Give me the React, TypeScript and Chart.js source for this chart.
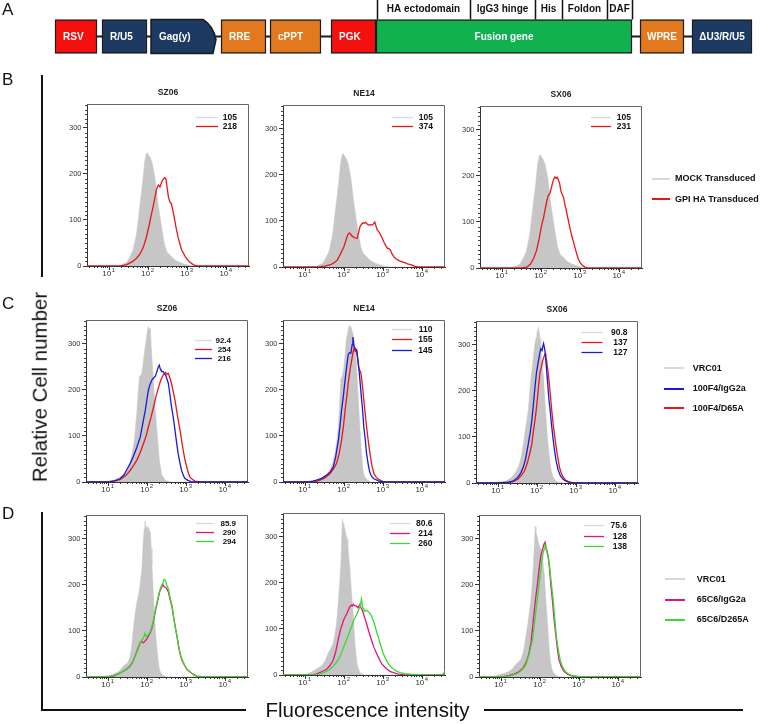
import React, { useEffect, useRef } from 'react';
import { Chart, registerables } from 'chart.js';

Chart.register(...registerables);

const FAMILY = '"Liberation Sans", Arial, Helvetica, sans-serif';

// ---------------- Panel A: construct map ----------------
const constructElements = ['RSV', 'R/U5', 'Gag(y)', 'RRE', 'cPPT', 'PGK', 'Fusion gene', 'WPRE', 'ΔU3/R/U5'];
const elementStart = [55, 102, 151, 221, 270, 331, 376, 640, 692];
const elementEnd = [97, 147, 216, 266, 321, 376, 632, 684, 752];
const elementKind = ['promoter', 'ltr', 'gag', 'element', 'element', 'promoter', 'fusion', 'element', 'ltr'];
const fusionDomains = ['HA ectodomain', 'IgG3 hinge', 'His', 'Foldon', 'DAF'];
const fusionBounds = [377, 470, 535, 562, 607, 632];

// ---------------- Histogram axes ----------------
const X_MIN_EXP = 0.43;
const X_MAX_EXP = 4.58;
const X_LABEL_EXPS = [1, 2, 3, 4];
const Y_MAX = 352;
const Y_TICKS_STEP = 100;

// [log10 intensity, cell count]
const bMock = [[0.43,0],[1.2,0],[1.3,2],[1.45,8],[1.53,20],[1.61,34],[1.7,70],[1.78,128],[1.85,178],[1.91,228],[1.95,244],[1.98,246],[2.01,240],[2.05,236],[2.1,224],[2.17,193],[2.25,136],[2.34,85],[2.42,45],[2.48,30],[2.53,26],[2.58,22],[2.65,15],[2.75,10],[2.9,5],[3.06,1],[3.2,0],[4.58,0]];
const bSz06Gpi = [[0.43,0],[1.3,0],[1.45,3],[1.6,10],[1.7,17],[1.78,25],[1.87,40],[1.95,62],[2.02,88],[2.08,112],[2.15,140],[2.21,167],[2.26,176],[2.3,172],[2.34,182],[2.38,188],[2.42,192],[2.45,190],[2.48,172],[2.52,148],[2.56,138],[2.59,136],[2.62,124],[2.66,108],[2.71,84],[2.77,60],[2.85,36],[2.95,20],[3.05,9],[3.15,3],[3.25,0],[4.58,0]];
const bNe14Gpi = [[0.43,0],[1.35,0],[1.5,2],[1.65,5],[1.75,10],[1.82,15],[1.9,28],[1.99,44],[2.05,60],[2.09,70],[2.13,74],[2.16,72],[2.2,67],[2.24,65],[2.29,63],[2.33,62],[2.37,76],[2.4,87],[2.44,93],[2.48,96],[2.52,95],[2.55,97],[2.59,93],[2.63,91],[2.67,92],[2.71,91],[2.75,94],[2.78,98],[2.81,90],[2.84,81],[2.89,76],[2.93,70],[2.97,63],[3.01,55],[3.06,47],[3.1,41],[3.14,40],[3.18,37],[3.22,29],[3.27,22],[3.32,18],[3.38,15],[3.45,12],[3.53,10],[3.62,7],[3.7,5],[3.8,2],[3.9,0],[4.58,0]];
const bSx06Gpi = [[0.43,0],[1.5,0],[1.63,2],[1.72,8],[1.8,20],[1.87,36],[1.93,57],[1.97,75],[2.01,93],[2.06,110],[2.1,128],[2.14,145],[2.18,158],[2.22,162],[2.26,175],[2.31,192],[2.35,198],[2.38,195],[2.41,197],[2.44,191],[2.47,184],[2.5,168],[2.53,160],[2.57,154],[2.6,140],[2.64,125],[2.7,100],[2.74,85],[2.78,70],[2.83,55],[2.87,42],[2.91,30],[2.95,19],[3.0,11],[3.05,6],[3.12,2],[3.2,0],[4.58,0]];

const cSz06Vrc = [[0.43,0],[0.7,0],[0.85,1],[1.0,2],[1.13,4],[1.27,9],[1.39,15],[1.46,22],[1.52,33],[1.57,46],[1.61,62],[1.67,91],[1.73,149],[1.77,200],[1.8,229],[1.83,232],[1.86,236],[1.9,262],[1.93,284],[1.96,302],[1.99,320],[2.01,332],[2.03,338],[2.06,330],[2.08,334],[2.1,294],[2.14,243],[2.17,200],[2.2,163],[2.23,130],[2.26,98],[2.31,47],[2.37,15],[2.46,4],[2.59,0],[4.58,0]];
const cSz06IgG2a = [[0.43,0],[0.9,0],[1.05,1],[1.18,3],[1.3,7],[1.4,15],[1.47,26],[1.56,40],[1.64,55],[1.73,75],[1.82,98],[1.88,125],[1.95,156],[2.0,185],[2.03,200],[2.07,212],[2.12,222],[2.16,226],[2.2,229],[2.24,238],[2.28,250],[2.31,254],[2.33,246],[2.35,243],[2.38,240],[2.41,240],[2.44,235],[2.47,232],[2.51,222],[2.54,214],[2.58,190],[2.62,163],[2.67,138],[2.71,112],[2.75,86],[2.79,62],[2.84,40],[2.88,25],[2.92,15],[2.96,8],[3.03,4],[3.12,1],[3.26,0],[4.58,0]];
const cSz06D65A = [[0.43,0],[1.0,0],[1.15,2],[1.3,5],[1.45,14],[1.56,25],[1.65,36],[1.73,47],[1.82,64],[1.9,83],[1.97,100],[2.03,120],[2.1,142],[2.16,163],[2.22,185],[2.29,206],[2.34,220],[2.4,232],[2.44,236],[2.47,238],[2.5,234],[2.54,236],[2.58,226],[2.62,214],[2.66,198],[2.71,178],[2.77,145],[2.84,112],[2.88,90],[2.92,69],[2.96,50],[3.01,33],[3.05,20],[3.09,11],[3.15,6],[3.22,2],[3.35,0],[4.58,0]];

const cNe14Vrc = [[0.43,0],[0.9,0],[1.03,1],[1.2,3],[1.35,6],[1.46,11],[1.55,17],[1.63,25],[1.7,40],[1.76,62],[1.81,90],[1.85,120],[1.88,170],[1.91,222],[1.95,232],[1.98,243],[2.02,275],[2.05,308],[2.09,325],[2.12,338],[2.15,340],[2.18,334],[2.21,325],[2.24,316],[2.28,290],[2.31,258],[2.34,210],[2.37,163],[2.4,118],[2.43,76],[2.46,45],[2.48,25],[2.52,12],[2.57,6],[2.67,0],[4.58,0]];
const cNe14IgG2a = [[0.43,0],[1.1,0],[1.2,2],[1.29,4],[1.42,8],[1.55,15],[1.64,22],[1.72,33],[1.78,55],[1.85,91],[1.89,122],[1.93,156],[1.98,190],[2.02,221],[2.06,250],[2.1,276],[2.13,281],[2.17,280],[2.2,298],[2.22,315],[2.24,300],[2.25,294],[2.28,290],[2.31,287],[2.34,270],[2.37,250],[2.4,222],[2.43,192],[2.47,155],[2.5,120],[2.54,90],[2.57,62],[2.61,40],[2.65,22],[2.7,12],[2.76,7],[2.89,2],[3.02,0],[4.58,0]];
const cNe14D65A = [[0.43,0],[1.2,0],[1.3,2],[1.38,4],[1.5,9],[1.63,18],[1.72,28],[1.8,40],[1.87,62],[1.93,91],[1.98,122],[2.02,156],[2.07,190],[2.11,221],[2.15,245],[2.19,265],[2.22,280],[2.25,290],[2.28,284],[2.32,287],[2.35,265],[2.37,247],[2.4,242],[2.43,236],[2.47,205],[2.5,178],[2.54,145],[2.58,113],[2.62,85],[2.67,55],[2.71,35],[2.76,18],[2.82,10],[2.89,5],[3.02,0],[4.58,0]];

const cSx06Vrc = [[0.43,0],[0.75,0],[0.86,1],[1.05,2],[1.21,5],[1.3,9],[1.38,16],[1.45,24],[1.51,34],[1.56,46],[1.6,63],[1.65,88],[1.69,114],[1.73,135],[1.77,158],[1.8,190],[1.83,223],[1.87,250],[1.9,274],[1.94,303],[1.97,316],[1.99,325],[2.01,332],[2.03,339],[2.05,326],[2.07,314],[2.09,295],[2.11,274],[2.13,252],[2.16,230],[2.2,172],[2.23,135],[2.26,99],[2.3,65],[2.33,41],[2.37,22],[2.41,12],[2.47,5],[2.54,2],[2.67,0],[4.58,0]];
const cSx06IgG2a = [[0.43,0],[1.0,0],[1.1,1],[1.25,2],[1.38,4],[1.5,12],[1.58,22],[1.64,34],[1.7,52],[1.77,85],[1.82,110],[1.86,136],[1.9,170],[1.94,208],[1.98,240],[2.03,266],[2.06,280],[2.09,292],[2.12,288],[2.14,296],[2.16,303],[2.18,295],[2.2,285],[2.23,255],[2.26,223],[2.3,180],[2.33,158],[2.36,130],[2.4,99],[2.44,72],[2.48,49],[2.53,30],[2.59,16],[2.65,9],[2.71,5],[2.8,2],[2.88,0],[4.58,0]];
const cSx06D65A = [[0.43,0],[1.1,0],[1.25,1],[1.38,3],[1.5,8],[1.6,17],[1.68,27],[1.75,45],[1.81,65],[1.86,85],[1.9,112],[1.95,142],[1.99,172],[2.03,208],[2.07,241],[2.1,250],[2.14,266],[2.17,274],[2.2,281],[2.22,272],[2.24,266],[2.27,245],[2.31,215],[2.34,186],[2.37,158],[2.41,125],[2.46,92],[2.51,62],[2.57,34],[2.62,20],[2.67,12],[2.73,6],[2.8,3],[2.9,1],[2.97,0],[4.58,0]];

const dSz06Vrc = [[0.43,0],[0.75,0],[0.82,1],[1.0,3],[1.13,6],[1.27,12],[1.39,24],[1.5,31],[1.55,42],[1.59,60],[1.62,85],[1.65,111],[1.69,138],[1.73,161],[1.77,176],[1.8,190],[1.83,212],[1.86,234],[1.88,268],[1.9,299],[1.92,322],[1.94,339],[1.96,330],[1.99,321],[2.01,327],[2.03,325],[2.06,318],[2.08,314],[2.1,280],[2.12,241],[2.15,190],[2.18,140],[2.21,100],[2.25,60],[2.28,35],[2.31,17],[2.35,8],[2.4,4],[2.5,0],[4.58,0]];
const dSz06IgG2a = [[0.43,0],[0.9,0],[1.0,1],[1.13,2],[1.27,7],[1.39,13],[1.48,18],[1.56,24],[1.63,33],[1.69,46],[1.76,62],[1.82,75],[1.86,77],[1.9,74],[1.94,78],[1.99,83],[2.03,89],[2.08,97],[2.12,107],[2.16,122],[2.2,140],[2.25,160],[2.31,183],[2.35,192],[2.4,201],[2.43,196],[2.46,195],[2.5,192],[2.54,185],[2.58,170],[2.63,154],[2.67,132],[2.71,111],[2.76,88],[2.8,67],[2.84,50],[2.88,38],[2.95,26],[3.01,17],[3.08,12],[3.14,8],[3.2,4],[3.27,2],[3.44,0],[4.58,0]];
const dSz06D265A = [[0.43,0],[0.9,0],[1.0,1],[1.13,3],[1.27,8],[1.39,12],[1.48,17],[1.56,23],[1.63,32],[1.69,45],[1.76,60],[1.82,74],[1.86,80],[1.9,84],[1.94,95],[1.97,88],[2.03,92],[2.08,100],[2.12,110],[2.16,124],[2.2,143],[2.25,163],[2.31,185],[2.35,196],[2.4,204],[2.43,212],[2.46,210],[2.5,200],[2.54,192],[2.58,174],[2.63,156],[2.67,134],[2.71,113],[2.76,90],[2.8,69],[2.84,52],[2.88,40],[2.95,27],[3.01,18],[3.08,12],[3.14,8],[3.2,5],[3.27,2],[3.44,0],[4.58,0]];

const dNe14Vrc = [[0.43,0],[0.85,0],[1.03,2],[1.15,6],[1.28,13],[1.38,18],[1.46,24],[1.52,33],[1.58,46],[1.65,57],[1.71,68],[1.75,84],[1.79,104],[1.82,130],[1.85,163],[1.88,200],[1.91,236],[1.93,290],[1.95,339],[1.97,330],[1.99,324],[2.02,315],[2.05,302],[2.07,296],[2.09,287],[2.11,262],[2.14,235],[2.17,198],[2.2,162],[2.24,115],[2.27,74],[2.3,45],[2.33,23],[2.37,12],[2.4,5],[2.5,0],[4.58,0]];
const dNe14IgG2a = [[0.43,0],[1.1,0],[1.2,1],[1.28,2],[1.42,7],[1.54,12],[1.63,20],[1.71,31],[1.78,50],[1.84,75],[1.88,90],[1.92,104],[1.95,110],[1.98,119],[2.02,126],[2.07,134],[2.1,140],[2.14,148],[2.18,152],[2.21,150],[2.23,154],[2.27,150],[2.31,150],[2.35,146],[2.38,150],[2.4,151],[2.43,146],[2.46,141],[2.51,128],[2.57,112],[2.63,94],[2.7,75],[2.76,60],[2.83,46],[2.9,34],[2.96,24],[3.03,18],[3.09,13],[3.17,8],[3.26,5],[3.38,2],[3.51,1],[3.77,0],[4.58,0]];
const dNe14D265A = [[0.43,0],[1.2,0],[1.28,1],[1.37,2],[1.5,6],[1.63,12],[1.72,19],[1.8,28],[1.86,36],[1.92,46],[1.98,60],[2.05,75],[2.1,86],[2.15,97],[2.2,108],[2.24,119],[2.28,125],[2.31,130],[2.35,138],[2.4,148],[2.42,155],[2.44,165],[2.46,152],[2.48,145],[2.5,141],[2.54,139],[2.57,141],[2.62,137],[2.66,134],[2.7,127],[2.74,119],[2.79,106],[2.83,93],[2.88,80],[2.92,68],[2.96,57],[3.0,46],[3.06,35],[3.13,24],[3.2,17],[3.26,13],[3.35,8],[3.43,5],[3.55,3],[3.69,2],[3.9,1],[4.11,0],[4.5,0],[4.55,4],[4.58,10]];

const dSx06Vrc = [[0.43,0],[0.7,0],[0.85,2],[0.95,5],[1.08,8],[1.2,12],[1.3,19],[1.37,27],[1.44,32],[1.5,38],[1.55,50],[1.59,66],[1.63,88],[1.67,110],[1.72,140],[1.76,168],[1.79,200],[1.82,240],[1.85,290],[1.87,327],[1.89,318],[1.9,312],[1.93,300],[1.97,287],[2.0,280],[2.03,276],[2.06,255],[2.1,226],[2.13,185],[2.16,146],[2.2,100],[2.23,59],[2.26,35],[2.3,16],[2.35,8],[2.4,3],[2.53,0],[4.58,0]];
const dSx06IgG2a = [[0.43,0],[0.9,0],[1.05,1],[1.2,3],[1.35,7],[1.46,12],[1.55,19],[1.63,30],[1.7,48],[1.76,74],[1.8,105],[1.84,139],[1.88,170],[1.93,204],[1.97,235],[2.01,262],[2.05,275],[2.08,284],[2.1,290],[2.12,295],[2.14,284],[2.16,276],[2.18,268],[2.2,262],[2.24,233],[2.27,200],[2.31,168],[2.35,128],[2.4,88],[2.44,60],[2.48,37],[2.54,22],[2.61,12],[2.7,6],[2.78,3],[2.99,0],[4.58,0]];
const dSx06D265A = [[0.43,0],[0.95,0],[1.1,1],[1.25,3],[1.4,7],[1.5,13],[1.58,20],[1.63,27],[1.7,45],[1.75,62],[1.8,81],[1.85,115],[1.9,153],[1.95,188],[1.99,218],[2.03,245],[2.07,269],[2.1,278],[2.12,286],[2.14,284],[2.16,278],[2.19,269],[2.21,258],[2.24,240],[2.28,205],[2.33,168],[2.37,128],[2.41,88],[2.46,60],[2.51,37],[2.57,22],[2.64,12],[2.73,6],[2.82,3],[3.04,0],[4.58,0]];

// median fluorescence values printed in each plot
const bSz06Mfi = ['105', '218'];
const bNe14Mfi = ['105', '374'];
const bSx06Mfi = ['105', '231'];
const cSz06Mfi = ['92.4', '254', '216'];
const cNe14Mfi = ['110', '155', '145'];
const cSx06Mfi = ['90.8', '137', '127'];
const dSz06Mfi = ['85.9', '290', '294'];
const dNe14Mfi = ['80.6', '214', '260'];
const dSx06Mfi = ['75.6', '128', '138'];

const strainTitles = ['SZ06', 'NE14', 'SX06'];
const legendB = ['MOCK Transduced', 'GPI HA Transduced'];
const legendC = ['VRC01', '100F4/IgG2a', '100F4/D65A'];
const legendD = ['VRC01', '65C6/IgG2a', '65C6/D265A'];

// ---------------- styles ----------------
const GRAY_FILL = '#c6c6c6';
const GRAY_LINE = '#d9d9d9';
const RED = '#e8161b';
const BLUE = '#1b1bd6';
const MAGENTA = '#e3157c';
const GREEN = '#38dc2c';
const KIND_COLOR: Record<string, string> = {
  promoter: '#f50f0f',
  ltr: '#1d3a63',
  gag: '#1d3a63',
  element: '#e3791e',
  fusion: '#10b14e',
};

const PLOT_W = 162;
const PLOT_H = 162;
const PAD_L = 40;
const PAD_T = 28;
const PAD_R = 8;
const PAD_B = 24;

type Series = { pts: number[][]; color: string; fill?: boolean; order: number };
type LegendStyle = { dy: number; gap: number; size: number; x1: number; x2: number; xr: number };
type HistSpec = {
  left: number;
  top: number;
  title?: string;
  series: Series[];
  legend: [string, string][];
  ls: LegendStyle;
};

const specs: HistSpec[] = [
  {
    left: 87, top: 104, title: strainTitles[0],
    series: [{ pts: bSz06Gpi, color: RED, order: 1 }, { pts: bMock, color: GRAY_FILL, fill: true, order: 9 }],
    legend: [[GRAY_LINE, bSz06Mfi[0]], [RED, bSz06Mfi[1]]],
    ls: { dy: 13.4, gap: 8.5, size: 8.5, x1: -53, x2: -31, xr: -12 },
  },
  {
    left: 283, top: 105, title: strainTitles[1],
    series: [{ pts: bNe14Gpi, color: RED, order: 1 }, { pts: bMock, color: GRAY_FILL, fill: true, order: 9 }],
    legend: [[GRAY_LINE, bNe14Mfi[0]], [RED, bNe14Mfi[1]]],
    ls: { dy: 12.4, gap: 9, size: 8.5, x1: -53, x2: -32, xr: -12 },
  },
  {
    left: 480, top: 106, title: strainTitles[2],
    series: [{ pts: bSx06Gpi, color: RED, order: 1 }, { pts: bMock, color: GRAY_FILL, fill: true, order: 9 }],
    legend: [[GRAY_LINE, bSx06Mfi[0]], [RED, bSx06Mfi[1]]],
    ls: { dy: 11, gap: 9.3, size: 8.5, x1: -51, x2: -31, xr: -11 },
  },
  {
    left: 86, top: 320, title: strainTitles[0],
    series: [{ pts: cSz06IgG2a, color: BLUE, order: 1 }, { pts: cSz06D65A, color: RED, order: 2 }, { pts: cSz06Vrc, color: GRAY_FILL, fill: true, order: 9 }],
    legend: [[GRAY_LINE, cSz06Mfi[0]], [RED, cSz06Mfi[1]], [BLUE, cSz06Mfi[2]]],
    ls: { dy: 20, gap: 9, size: 8, x1: -53, x2: -36, xr: -17 },
  },
  {
    left: 283, top: 320, title: strainTitles[1],
    series: [{ pts: cNe14IgG2a, color: BLUE, order: 1 }, { pts: cNe14D65A, color: RED, order: 2 }, { pts: cNe14Vrc, color: GRAY_FILL, fill: true, order: 9 }],
    legend: [[GRAY_LINE, cNe14Mfi[0]], [RED, cNe14Mfi[1]], [BLUE, cNe14Mfi[2]]],
    ls: { dy: 8.5, gap: 10.5, size: 8.5, x1: -53, x2: -33, xr: -12.5 },
  },
  {
    left: 476, top: 321, title: strainTitles[2],
    series: [{ pts: cSx06IgG2a, color: BLUE, order: 1 }, { pts: cSx06D65A, color: RED, order: 2 }, { pts: cSx06Vrc, color: GRAY_FILL, fill: true, order: 9 }],
    legend: [[GRAY_LINE, cSx06Mfi[0]], [RED, cSx06Mfi[1]], [BLUE, cSx06Mfi[2]]],
    ls: { dy: 10.5, gap: 10.3, size: 8.5, x1: -56.5, x2: -35.5, xr: -10.5 },
  },
  {
    left: 86, top: 515,
    series: [{ pts: dSz06D265A, color: GREEN, order: 1 }, { pts: dSz06IgG2a, color: MAGENTA, order: 2 }, { pts: dSz06Vrc, color: GRAY_FILL, fill: true, order: 9 }],
    legend: [[GRAY_LINE, dSz06Mfi[0]], [MAGENTA, dSz06Mfi[1]], [GREEN, dSz06Mfi[2]]],
    ls: { dy: 7.5, gap: 9, size: 8, x1: -52, x2: -34, xr: -12 },
  },
  {
    left: 283, top: 513,
    series: [{ pts: dNe14D265A, color: GREEN, order: 1 }, { pts: dNe14IgG2a, color: MAGENTA, order: 2 }, { pts: dNe14Vrc, color: GRAY_FILL, fill: true, order: 9 }],
    legend: [[GRAY_LINE, dNe14Mfi[0]], [MAGENTA, dNe14Mfi[1]], [GREEN, dNe14Mfi[2]]],
    ls: { dy: 10, gap: 10, size: 8.5, x1: -55, x2: -35, xr: -12.5 },
  },
  {
    left: 479, top: 515,
    series: [{ pts: dSx06D265A, color: GREEN, order: 1 }, { pts: dSx06IgG2a, color: MAGENTA, order: 2 }, { pts: dSx06Vrc, color: GRAY_FILL, fill: true, order: 9 }],
    legend: [[GRAY_LINE, dSx06Mfi[0]], [MAGENTA, dSx06Mfi[1]], [GREEN, dSx06Mfi[2]]],
    ls: { dy: 10, gap: 10.5, size: 8.5, x1: -57, x2: -37, xr: -14 },
  },
];

function makeDecor(spec: HistSpec) {
  return {
    id: 'decor',
    beforeDatasetsDraw(chart: any) {
      const { ctx, chartArea: a, scales } = chart;
      const x = scales.x;
      const y = scales.y;
      ctx.save();
      // frame top/right
      ctx.strokeStyle = '#666';
      ctx.lineWidth = 1;
      ctx.beginPath();
      ctx.moveTo(a.left, a.top + 0.5);
      ctx.lineTo(a.right - 0.5, a.top + 0.5);
      ctx.lineTo(a.right - 0.5, a.bottom);
      ctx.stroke();
      // minor y ticks
      ctx.strokeStyle = '#444';
      ctx.beginPath();
      for (let v = 10; v < Y_MAX; v += 10) {
        if (v % Y_TICKS_STEP === 0) continue;
        const py = Math.round(y.getPixelForValue(v)) + 0.5;
        ctx.moveTo(a.left - 2, py);
        ctx.lineTo(a.left, py);
      }
      ctx.stroke();
      // x ticks (log decades + minor)
      ctx.strokeStyle = '#333';
      ctx.beginPath();
      for (let k = 0; k <= 4; k++) {
        for (let m = 1; m <= 9; m++) {
          const v = m * Math.pow(10, k);
          if (v < x.min || v > x.max) continue;
          const px = Math.round(x.getPixelForValue(v)) + 0.5;
          const len = m === 1 ? 4 : 2;
          ctx.moveTo(px, a.bottom);
          ctx.lineTo(px, a.bottom + len);
        }
      }
      ctx.stroke();
      ctx.fillStyle = '#333';
      for (const e of X_LABEL_EXPS) {
        const px = x.getPixelForValue(Math.pow(10, e));
        ctx.font = `8px ${FAMILY}`;
        ctx.textAlign = 'center';
        ctx.textBaseline = 'middle';
        ctx.fillText('10', px - 2.5, a.bottom + 8);
        ctx.font = `6px ${FAMILY}`;
        ctx.textAlign = 'left';
        ctx.fillText(String(e), px + 2.5, a.bottom + 4);
      }
      ctx.restore();
    },
    afterDraw(chart: any) {
      const { ctx, chartArea: a } = chart;
      ctx.save();
      if (spec.title) {
        ctx.font = `bold 8.5px ${FAMILY}`;
        ctx.fillStyle = '#222';
        ctx.textAlign = 'center';
        ctx.textBaseline = 'middle';
        ctx.fillText(spec.title, (a.left + a.right) / 2, a.top - 11);
      }
      const ls = spec.ls;
      spec.legend.forEach(([color, text], i) => {
        const yy = Math.round(a.top + ls.dy + i * ls.gap) + 0.5;
        ctx.strokeStyle = color;
        ctx.lineWidth = 1.3;
        ctx.beginPath();
        ctx.moveTo(a.right + ls.x1, yy);
        ctx.lineTo(a.right + ls.x2, yy);
        ctx.stroke();
        ctx.font = `bold ${ls.size}px ${FAMILY}`;
        ctx.fillStyle = '#111';
        ctx.textAlign = 'right';
        ctx.textBaseline = 'middle';
        ctx.fillText(text, a.right + ls.xr, yy + 0.5);
      });
      ctx.restore();
    },
  };
}

function Histogram({ spec }: { spec: HistSpec }) {
  const ref = useRef<HTMLCanvasElement>(null);
  const w = PAD_L + PLOT_W + PAD_R;
  const h = PAD_T + PLOT_H + PAD_B;
  useEffect(() => {
    const chart = new Chart(ref.current as HTMLCanvasElement, {
      type: 'line',
      data: {
        datasets: spec.series.map((s) => ({
          data: s.pts.map(([e, c]) => ({ x: Math.pow(10, e), y: c })),
          borderColor: s.color,
          backgroundColor: s.fill ? s.color : 'transparent',
          fill: s.fill ? 'origin' : false,
          borderWidth: s.fill ? 0.5 : 1.3,
          pointRadius: 0,
          tension: 0,
          order: s.order,
        })),
      },
      options: {
        responsive: false,
        animation: false,
        events: [],
        layout: { padding: { top: PAD_T, right: PAD_R, left: 0, bottom: 0 } },
        plugins: { legend: { display: false }, tooltip: { enabled: false }, title: { display: false } },
        scales: {
          x: {
            type: 'logarithmic',
            min: Math.pow(10, X_MIN_EXP),
            max: Math.pow(10, X_MAX_EXP),
            ticks: { display: false },
            grid: { display: false },
            border: { color: '#333', width: 1 },
            afterFit: (s: any) => { s.height = PAD_B; },
          },
          y: {
            type: 'linear',
            min: 0,
            max: Y_MAX,
            ticks: { stepSize: Y_TICKS_STEP, includeBounds: false, font: { size: 7.5, family: FAMILY }, color: '#333', padding: 1.5 },
            grid: { drawOnChartArea: false, tickLength: 4, color: '#333' },
            border: { color: '#333', width: 1 },
            afterFit: (s: any) => { s.width = PAD_L; },
          },
        },
      } as any,
      plugins: [makeDecor(spec)],
    });
    return () => chart.destroy();
  }, [spec]);
  return (
    <canvas
      ref={ref}
      width={w}
      height={h}
      style={{ position: 'absolute', left: spec.left - PAD_L, top: spec.top - PAD_T, width: w, height: h }}
    />
  );
}

const constructPlugin = {
  id: 'construct',
  beforeDatasetsDraw(chart: any) {
    const { ctx, scales } = chart;
    const x = scales.x;
    const el = chart.getDatasetMeta(0).data[0];
    const cy = el.y;
    ctx.save();
    ctx.strokeStyle = '#1c1c1c';
    ctx.lineWidth = 2;
    ctx.beginPath();
    ctx.moveTo(x.getPixelForValue(elementStart[0]), cy);
    ctx.lineTo(x.getPixelForValue(elementEnd[elementEnd.length - 1]), cy);
    ctx.stroke();
    ctx.restore();
  },
  afterDatasetsDraw(chart: any) {
    const { ctx, scales } = chart;
    const x = scales.x;
    ctx.save();
    // Gag element with wavy right edge
    const gi = elementKind.indexOf('gag');
    const g = chart.getDatasetMeta(gi).data[0];
    const top = g.y - g.height / 2;
    const bottom = g.y + g.height / 2;
    ctx.beginPath();
    ctx.moveTo(g.base, top);
    ctx.lineTo(g.x - 13, top);
    ctx.quadraticCurveTo(g.x - 3, top + 6, g.x, top + 20);
    ctx.lineTo(g.x - 3, bottom);
    ctx.lineTo(g.base, bottom);
    ctx.closePath();
    ctx.fillStyle = KIND_COLOR.gag;
    ctx.fill();
    ctx.strokeStyle = '#1c1c1c';
    ctx.lineWidth = 1.5;
    ctx.stroke();
    // element labels
    ctx.font = `bold 10px ${FAMILY}`;
    ctx.fillStyle = '#ffffff';
    ctx.textBaseline = 'middle';
    constructElements.forEach((name, i) => {
      const el = chart.getDatasetMeta(i).data[0];
      const x0 = x.getPixelForValue(elementStart[i]);
      const x1 = x.getPixelForValue(elementEnd[i]);
      const tw = ctx.measureText(name).width;
      const wdt = x1 - x0;
      let tx;
      if (wdt > 100) {
        tx = x0 + (wdt - tw) / 2;
      } else {
        tx = x0 + Math.min(8, (wdt - tw) / 2);
      }
      ctx.textAlign = 'left';
      ctx.fillText(name, tx, el.y + 0.5);
    });
    // fusion gene domain separators and labels
    const ref = chart.getDatasetMeta(0).data[0];
    const barTop = ref.y - ref.height / 2;
    ctx.strokeStyle = '#111';
    ctx.lineWidth = 1.5;
    ctx.beginPath();
    fusionBounds.forEach((b) => {
      const px = Math.round(x.getPixelForValue(b)) + 0.5;
      ctx.moveTo(px, 0);
      ctx.lineTo(px, barTop);
    });
    ctx.stroke();
    ctx.fillStyle = '#111';
    ctx.textAlign = 'center';
    ctx.font = `bold 10px ${FAMILY}`;
    fusionDomains.forEach((d, i) => {
      const cx = (x.getPixelForValue(fusionBounds[i]) + x.getPixelForValue(fusionBounds[i + 1])) / 2;
      ctx.fillText(d, cx, barTop - 10);
    });
    ctx.restore();
  },
};

function ConstructMap() {
  const ref = useRef<HTMLCanvasElement>(null);
  useEffect(() => {
    const chart = new Chart(ref.current as HTMLCanvasElement, {
      type: 'bar',
      data: {
        labels: ['construct'],
        datasets: constructElements.map((name, i) => ({
          label: name,
          data: [[elementStart[i], elementEnd[i]]],
          backgroundColor: elementKind[i] === 'gag' ? 'rgba(0,0,0,0)' : KIND_COLOR[elementKind[i]],
          borderColor: elementKind[i] === 'gag' ? 'rgba(0,0,0,0)' : '#1c1c1c',
          borderWidth: elementKind[i] === 'gag' ? 0 : 1.5,
          borderSkipped: false,
          grouped: false,
          barThickness: 34,
        })),
      },
      options: {
        indexAxis: 'y',
        responsive: false,
        animation: false,
        events: [],
        layout: { padding: 0 },
        plugins: { legend: { display: false }, tooltip: { enabled: false } },
        scales: {
          x: { type: 'linear', min: 0, max: 760, display: false },
          y: { display: false },
        },
      } as any,
      plugins: [constructPlugin],
    });
    return () => chart.destroy();
  }, []);
  return <canvas ref={ref} width={760} height={73} style={{ position: 'absolute', left: 0, top: 0, width: 760, height: 73 }} />;
}

function SideLegend({ labels, colors, x1, x2, tx, ys }: { labels: string[]; colors: string[]; x1: number; x2: number; tx: number; ys: number[] }) {
  return (
    <>
      {labels.map((t, i) => (
        <React.Fragment key={t}>
          <div style={{ position: 'absolute', left: x1, top: Math.round(ys[i]) - 1, width: x2 - x1, height: 2, background: colors[i] }} />
          <div
            style={{
              position: 'absolute', left: tx, top: ys[i] - 4.6, fontFamily: FAMILY, fontWeight: 'bold',
              fontSize: 9, lineHeight: '9px', color: '#111', whiteSpace: 'nowrap',
            }}
          >
            {t}
          </div>
        </React.Fragment>
      ))}
    </>
  );
}

const panelLabel = (t: string, top: number) => (
  <div key={t} style={{ position: 'absolute', left: 2, top, fontFamily: FAMILY, fontSize: 17, lineHeight: '17px', color: '#111' }}>{t}</div>
);

export default function App() {
  return (
    <div style={{ position: 'absolute', left: 0, top: 0, width: 760, height: 724, background: '#fff', overflow: 'hidden' }}>
      <ConstructMap />
      {specs.map((s, i) => <Histogram key={i} spec={s} />)}
      {panelLabel('A', 1)}
      {panelLabel('B', 71)}
      {panelLabel('C', 295)}
      {panelLabel('D', 505)}
      <div style={{ position: 'absolute', left: 41, top: 75, width: 2, height: 202, background: '#111' }} />
      <div style={{ position: 'absolute', left: 41, top: 512, width: 2, height: 199, background: '#111' }} />
      <div style={{ position: 'absolute', left: 41, top: 709, width: 205, height: 2, background: '#111' }} />
      <div style={{ position: 'absolute', left: 484, top: 709, width: 259, height: 2, background: '#111' }} />
      <div
        style={{
          position: 'absolute', left: 40, top: 386.7, transform: 'translate(-50%, -50%) rotate(-90deg)',
          fontFamily: FAMILY, fontSize: 20.5, lineHeight: '20.5px', whiteSpace: 'nowrap', color: '#111',
        }}
      >
        Relative Cell number
      </div>
      <div
        style={{
          position: 'absolute', left: 367.5, top: 699.6, transform: 'translateX(-50%)',
          fontFamily: FAMILY, fontSize: 20.5, lineHeight: '20.5px', whiteSpace: 'nowrap', color: '#111',
        }}
      >
        Fluorescence intensity
      </div>
      <SideLegend labels={legendB} colors={[GRAY_LINE, RED]} x1={652} x2={670} tx={675} ys={[179, 199.3]} />
      <SideLegend labels={legendC} colors={[GRAY_LINE, BLUE, RED]} x1={664} x2={684} tx={692.7} ys={[368.3, 389, 408.3]} />
      <SideLegend labels={legendD} colors={[GRAY_LINE, MAGENTA, GREEN]} x1={665} x2={685} tx={696.7} ys={[579.3, 600, 620]} />
    </div>
  );
}
